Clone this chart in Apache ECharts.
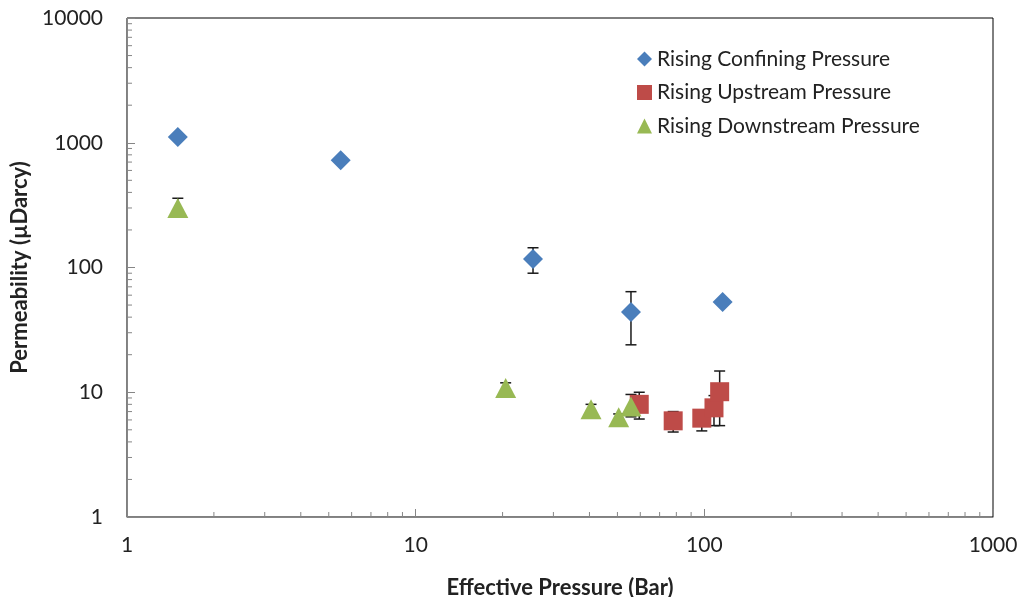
<!DOCTYPE html>
<html>
<head>
<meta charset="utf-8">
<script src="https://cdn.jsdelivr.net/npm/echarts@6/dist/echarts.min.js"></script>
<style>
html,body{margin:0;padding:0;background:#fff;}
#chart{width:1023px;height:597px;}
</style>
</head>
<body>
<div id="chart"></div>
<script>
// ---- Data (Effective Pressure [Bar], Permeability [µDarcy], error low, error high) ----
var confiningX   = [1.5, 5.5, 25.5, 55.7, 115.7];
var confiningY   = [1110, 725, 117, 44, 53];
var confiningLo  = [null, null, 90, 24, null];
var confiningHi  = [null, null, 144, 64, null];

var upstreamX    = [59.5, 78, 98, 108, 113];
var upstreamY    = [8.0, 5.9, 6.2, 7.5, 10.1];
var upstreamLo   = [6.1, 4.8, 4.9, 5.4, 5.4];
var upstreamHi   = [10.0, 7.0, 7.2, 9.4, 14.8];

var downstreamX  = [1.5, 20.5, 40.5, 50.5, 55.7];
var downstreamY  = [300, 10.8, 7.3, 6.3, 7.7];
var downstreamLo = [255, 9.8, 6.6, 5.8, 6.35];
var downstreamHi = [359, 11.9, 8.0, 6.7, 9.6];

var seriesNames = ['Rising Confining Pressure', 'Rising Upstream Pressure', 'Rising Downstream Pressure'];

// ---- Axis ticks ----
var xMajorTicks = [1, 10, 100, 1000];
var yMajorTicks = [1, 10, 100, 1000, 10000];
var xMinorTicks = [2,3,4,5,6,7,8,9,20,30,40,50,60,70,80,90,200,300,400,500,600,700,800,900];
var yMinorTicks = [2,3,4,5,6,7,8,9,20,30,40,50,60,70,80,90,200,300,400,500,600,700,800,900,2000,3000,4000,5000,6000,7000,8000,9000];

var colors = ['#4A7EBB', '#BE4B48', '#98B954'];
var FONT = 'Lato, "Open Sans", sans-serif';

function pts(xs, ys) { return xs.map(function (x, i) { return [x, ys[i]]; }); }
function errs(xs, ys, lo, hi) {
  var out = [];
  xs.forEach(function (x, i) { if (lo[i] != null) out.push([x, ys[i], lo[i], hi[i]]); });
  return out;
}

var errorData = [].concat(
  errs(confiningX, confiningY, confiningLo, confiningHi),
  errs(upstreamX, upstreamY, upstreamLo, upstreamHi),
  errs(downstreamX, downstreamY, downstreamLo, downstreamHi)
);

var chart = echarts.init(document.getElementById('chart'), null, { renderer: 'canvas' });

var option = {
  animation: false,
  backgroundColor: '#fff',
  grid: {
    left: 127, right: 30, top: 18, bottom: 80,
    containLabel: false, outerBoundsMode: 'none',
    show: true, borderColor: '#000', borderWidth: 1, backgroundColor: 'transparent'
  },
  legend: {
    orient: 'vertical',
    left: 632, top: 42,
    itemWidth: 15, itemHeight: 15,
    itemGap: 9.5,
    data: [
      { name: seriesNames[0], icon: 'diamond' },
      { name: seriesNames[1], icon: 'rect' },
      { name: seriesNames[2], icon: 'triangle' }
    ],
    textStyle: { fontFamily: FONT, fontSize: 21, color: '#222', lineHeight: 24 }
  },
  xAxis: {
    type: 'log', logBase: 10, min: 1, max: 1000,
    name: 'Effective Pressure (Bar)',
    nameLocation: 'middle', nameGap: 60,
    nameTextStyle: { fontFamily: FONT, fontSize: 22, fontWeight: 'bold', color: '#222' },
    axisLine: { show: true, lineStyle: { color: '#868686', width: 1 } },
    axisTick: { show: true, inside: true, length: 8, lineStyle: { color: '#868686' } },
    axisLabel: { fontFamily: FONT, fontSize: 21, color: '#222', margin: 18,
      formatter: function (v) { return xMajorTicks.indexOf(Math.round(v)) >= 0 ? String(Math.round(v)) : ''; } },
    splitLine: { show: false }
  },
  yAxis: {
    type: 'log', logBase: 10, min: 1, max: 10000,
    name: 'Permeability (µDarcy)',
    nameLocation: 'middle', nameGap: 92,
    nameTextStyle: { fontFamily: FONT, fontSize: 22, fontWeight: 'bold', color: '#222' },
    axisLine: { show: true, lineStyle: { color: '#868686', width: 1 } },
    axisTick: { show: true, inside: true, length: 8, lineStyle: { color: '#868686' } },
    axisLabel: { fontFamily: FONT, fontSize: 21, color: '#222', margin: 24,
      formatter: function (v) { return yMajorTicks.indexOf(Math.round(v)) >= 0 ? String(Math.round(v)) : ''; } },
    splitLine: { show: false }
  },
  series: [
    {
      type: 'custom', name: 'xMinor', silent: true, z: 1,
      data: xMinorTicks.map(function (v) { return [v, 1]; }),
      renderItem: function (params, api) {
        var p = api.coord([api.value(0), 1]);
        return { type: 'line', shape: { x1: p[0], y1: p[1], x2: p[0], y2: p[1] - 5 },
          style: { stroke: '#868686', lineWidth: 1 } };
      }
    },
    {
      type: 'custom', name: 'yMinor', silent: true, z: 1,
      data: yMinorTicks.map(function (v) { return [1, v]; }),
      renderItem: function (params, api) {
        var p = api.coord([1, api.value(1)]);
        return { type: 'line', shape: { x1: p[0], y1: p[1], x2: p[0] + 5, y2: p[1] },
          style: { stroke: '#868686', lineWidth: 1 } };
      }
    },
    {
      type: 'custom', name: 'errors', silent: true, z: 2,
      data: errorData,
      renderItem: function (params, api) {
        var x = api.value(0);
        var top = api.coord([x, api.value(3)]);
        var bot = api.coord([x, api.value(2)]);
        var hw = 5.5;
        var st = { stroke: '#1a1a1a', lineWidth: 1.5 };
        return { type: 'group', children: [
          { type: 'line', shape: { x1: top[0], y1: top[1], x2: bot[0], y2: bot[1] }, style: st },
          { type: 'line', shape: { x1: top[0] - hw, y1: top[1], x2: top[0] + hw, y2: top[1] }, style: st },
          { type: 'line', shape: { x1: bot[0] - hw, y1: bot[1], x2: bot[0] + hw, y2: bot[1] }, style: st }
        ] };
      }
    },
    {
      type: 'scatter', name: seriesNames[0], z: 3,
      symbol: 'diamond', symbolSize: [20, 20],
      itemStyle: { color: colors[0], opacity: 1 },
      data: pts(confiningX, confiningY)
    },
    {
      type: 'scatter', name: seriesNames[1], z: 3,
      symbol: 'rect', symbolSize: [19, 19],
      itemStyle: { color: colors[1], opacity: 1 },
      data: pts(upstreamX, upstreamY)
    },
    {
      type: 'scatter', name: seriesNames[2], z: 3,
      symbol: 'triangle', symbolSize: [21, 20],
      itemStyle: { color: colors[2], opacity: 1 },
      data: pts(downstreamX, downstreamY)
    }
  ]
};
chart.setOption(option);
</script>
</body>
</html>
